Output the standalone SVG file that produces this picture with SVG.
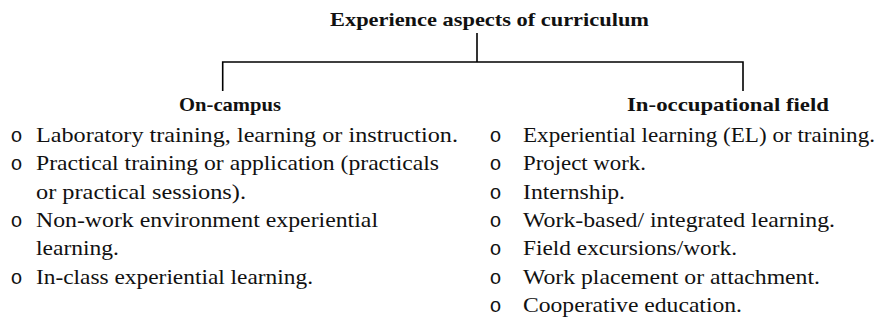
<svg xmlns="http://www.w3.org/2000/svg" width="878" height="324" viewBox="0 0 878 324">
  <style>
    .bg { fill: #ffffff; }
    .hd { font-family: "Liberation Serif", "Times New Roman", serif; font-weight: bold; font-size: 19px; fill: #111111; }
    .tx { font-family: "Liberation Serif", "Times New Roman", serif; font-size: 21px; fill: #111111; }
    .bl { font-family: "Liberation Mono", "Courier New", monospace; font-size: 20px; fill: #111111; }
    .cn { fill: none; stroke: #000000; stroke-width: 1.6; }
  </style>
  <rect class="bg" x="0" y="0" width="878" height="324"/>

  <g id="connectors">
    <path class="cn" d="M477,33 V62"/>
    <path class="cn" d="M222.7,91 V62 H743 V91"/>
  </g>

  <g id="node-root">
    <text class="hd" x="330" y="26" textLength="319" lengthAdjust="spacingAndGlyphs">Experience aspects of curriculum</text>
  </g>

  <g id="node-on-campus">
    <text class="hd" x="179" y="111" textLength="102" lengthAdjust="spacingAndGlyphs">On-campus</text>
    <text class="bl" x="10.5" y="142">o</text>
    <text class="tx" x="36" y="142" textLength="422" lengthAdjust="spacingAndGlyphs">Laboratory training, learning or instruction.</text>
    <text class="bl" x="10.5" y="170.3">o</text>
    <text class="tx" x="36" y="170.3" textLength="403" lengthAdjust="spacingAndGlyphs">Practical training or application (practicals</text>
    <text class="tx" x="36" y="198.6" textLength="210" lengthAdjust="spacingAndGlyphs">or practical sessions).</text>
    <text class="bl" x="10.5" y="226.9">o</text>
    <text class="tx" x="36" y="226.9" textLength="342" lengthAdjust="spacingAndGlyphs">Non-work environment experiential</text>
    <text class="tx" x="36" y="255.2" textLength="83" lengthAdjust="spacingAndGlyphs">learning.</text>
    <text class="bl" x="10.5" y="283.5">o</text>
    <text class="tx" x="36" y="283.5" textLength="277" lengthAdjust="spacingAndGlyphs">In-class experiential learning.</text>
  </g>

  <g id="node-in-occupational">
    <text class="hd" x="627" y="111" textLength="202" lengthAdjust="spacingAndGlyphs">In-occupational field</text>
    <text class="bl" x="489.5" y="142">o</text>
    <text class="tx" x="523" y="142" textLength="352" lengthAdjust="spacingAndGlyphs">Experiential learning (EL) or training.</text>
    <text class="bl" x="489.5" y="170.3">o</text>
    <text class="tx" x="523" y="170.3" textLength="123" lengthAdjust="spacingAndGlyphs">Project work.</text>
    <text class="bl" x="489.5" y="198.6">o</text>
    <text class="tx" x="523" y="198.6" textLength="102" lengthAdjust="spacingAndGlyphs">Internship.</text>
    <text class="bl" x="489.5" y="226.9">o</text>
    <text class="tx" x="523" y="226.9" textLength="312" lengthAdjust="spacingAndGlyphs">Work-based/ integrated learning.</text>
    <text class="bl" x="489.5" y="255.2">o</text>
    <text class="tx" x="523" y="255.2" textLength="214" lengthAdjust="spacingAndGlyphs">Field excursions/work.</text>
    <text class="bl" x="489.5" y="283.5">o</text>
    <text class="tx" x="523" y="283.5" textLength="297" lengthAdjust="spacingAndGlyphs">Work placement or attachment.</text>
    <text class="bl" x="489.5" y="311.8">o</text>
    <text class="tx" x="523" y="311.8" textLength="219" lengthAdjust="spacingAndGlyphs">Cooperative education.</text>
  </g>
</svg>
